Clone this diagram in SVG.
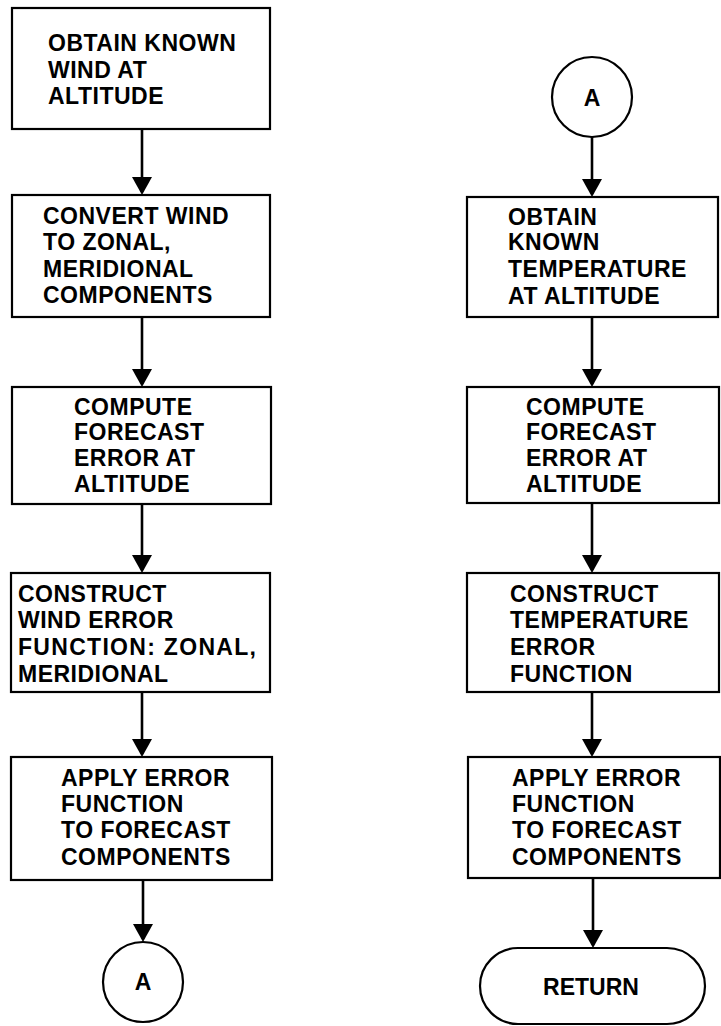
<svg xmlns="http://www.w3.org/2000/svg" width="721" height="1026" viewBox="0 0 721 1026">
  <style>
    .box { fill: #fff; stroke: #000; stroke-width: 2.2; }
    .lbl { font-family: "Liberation Sans", Arial, sans-serif; font-size: 23px; font-weight: bold; letter-spacing: 0.5px; fill: #000; }
    .mid { text-anchor: middle; letter-spacing: 0; }
    .flow { fill: none; stroke: #000; stroke-width: 2.6; marker-end: url(#head); }
  </style>
  <defs>
    <marker id="head" viewBox="0 0 18 20" refX="15" refY="10" markerWidth="18" markerHeight="20" markerUnits="userSpaceOnUse" orient="auto">
      <path d="M0,0 L18,10 L0,20 Z" fill="#000"/>
    </marker>
  </defs>
  <rect width="721" height="1026" fill="#fff"/>

  <!-- wind branch -->
  <g id="wind-obtain">
    <rect class="box" x="12" y="8" width="258" height="121"/>
    <text class="lbl" x="48" y="51">OBTAIN KNOWN</text>
    <text class="lbl" x="48" y="78">WIND AT</text>
    <text class="lbl" x="48" y="104">ALTITUDE</text>
  </g>
  <g id="wind-convert">
    <rect class="box" x="12" y="195" width="258" height="122"/>
    <text class="lbl" x="43" y="224">CONVERT WIND</text>
    <text class="lbl" x="43" y="250">TO ZONAL,</text>
    <text class="lbl" x="43" y="277">MERIDIONAL</text>
    <text class="lbl" x="43" y="303">COMPONENTS</text>
  </g>
  <g id="wind-compute">
    <rect class="box" x="12" y="387" width="259" height="117"/>
    <text class="lbl" x="74" y="415">COMPUTE</text>
    <text class="lbl" x="74" y="440">FORECAST</text>
    <text class="lbl" x="74" y="466">ERROR AT</text>
    <text class="lbl" x="74" y="492">ALTITUDE</text>
  </g>
  <g id="wind-construct">
    <rect class="box" x="11" y="573" width="259" height="119"/>
    <text class="lbl" x="18" y="602">CONSTRUCT</text>
    <text class="lbl" x="18" y="628">WIND ERROR</text>
    <text class="lbl" x="18" y="655" style="letter-spacing:1.3px">FUNCTION: ZONAL,</text>
    <text class="lbl" x="18" y="682">MERIDIONAL</text>
  </g>
  <g id="wind-apply">
    <rect class="box" x="11" y="757" width="261" height="123"/>
    <text class="lbl" x="61" y="786">APPLY ERROR</text>
    <text class="lbl" x="61" y="812">FUNCTION</text>
    <text class="lbl" x="61" y="838">TO FORECAST</text>
    <text class="lbl" x="61" y="865">COMPONENTS</text>
  </g>
  <g id="wind-connector-a">
    <circle class="box" cx="143" cy="982" r="40"/>
    <text class="lbl mid" x="143" y="990">A</text>
  </g>

  <!-- temperature branch -->
  <g id="temp-connector-a">
    <circle class="box" cx="592" cy="97" r="40"/>
    <text class="lbl mid" x="592" y="106">A</text>
  </g>
  <g id="temp-obtain">
    <rect class="box" x="467" y="197" width="251" height="120"/>
    <text class="lbl" x="508" y="225">OBTAIN</text>
    <text class="lbl" x="508" y="250">KNOWN</text>
    <text class="lbl" x="508" y="277">TEMPERATURE</text>
    <text class="lbl" x="508" y="304">AT ALTITUDE</text>
  </g>
  <g id="temp-compute">
    <rect class="box" x="467" y="387" width="252" height="116"/>
    <text class="lbl" x="526" y="415">COMPUTE</text>
    <text class="lbl" x="526" y="440">FORECAST</text>
    <text class="lbl" x="526" y="466">ERROR AT</text>
    <text class="lbl" x="526" y="492">ALTITUDE</text>
  </g>
  <g id="temp-construct">
    <rect class="box" x="467" y="573" width="252" height="119"/>
    <text class="lbl" x="510" y="602">CONSTRUCT</text>
    <text class="lbl" x="510" y="628">TEMPERATURE</text>
    <text class="lbl" x="510" y="655">ERROR</text>
    <text class="lbl" x="510" y="682">FUNCTION</text>
  </g>
  <g id="temp-apply">
    <rect class="box" x="468" y="757" width="252" height="121"/>
    <text class="lbl" x="512" y="786">APPLY ERROR</text>
    <text class="lbl" x="512" y="812">FUNCTION</text>
    <text class="lbl" x="512" y="838">TO FORECAST</text>
    <text class="lbl" x="512" y="865">COMPONENTS</text>
  </g>
  <g id="temp-return">
    <rect class="box" x="480" y="948" width="225" height="76" rx="38" ry="38"/>
    <text class="lbl mid" x="591" y="995">RETURN</text>
  </g>

  <!-- flow lines -->
  <g id="connectors">
    <path class="flow" d="M142,129 V192"/>
    <path class="flow" d="M142,317 V384"/>
    <path class="flow" d="M142,504 V570"/>
    <path class="flow" d="M142,692 V754"/>
    <path class="flow" d="M143,880 V939"/>
    <path class="flow" d="M592,137 V194"/>
    <path class="flow" d="M592,317 V384"/>
    <path class="flow" d="M592,503 V570"/>
    <path class="flow" d="M592,692 V754"/>
    <path class="flow" d="M593,878 V945"/>
  </g>
</svg>
